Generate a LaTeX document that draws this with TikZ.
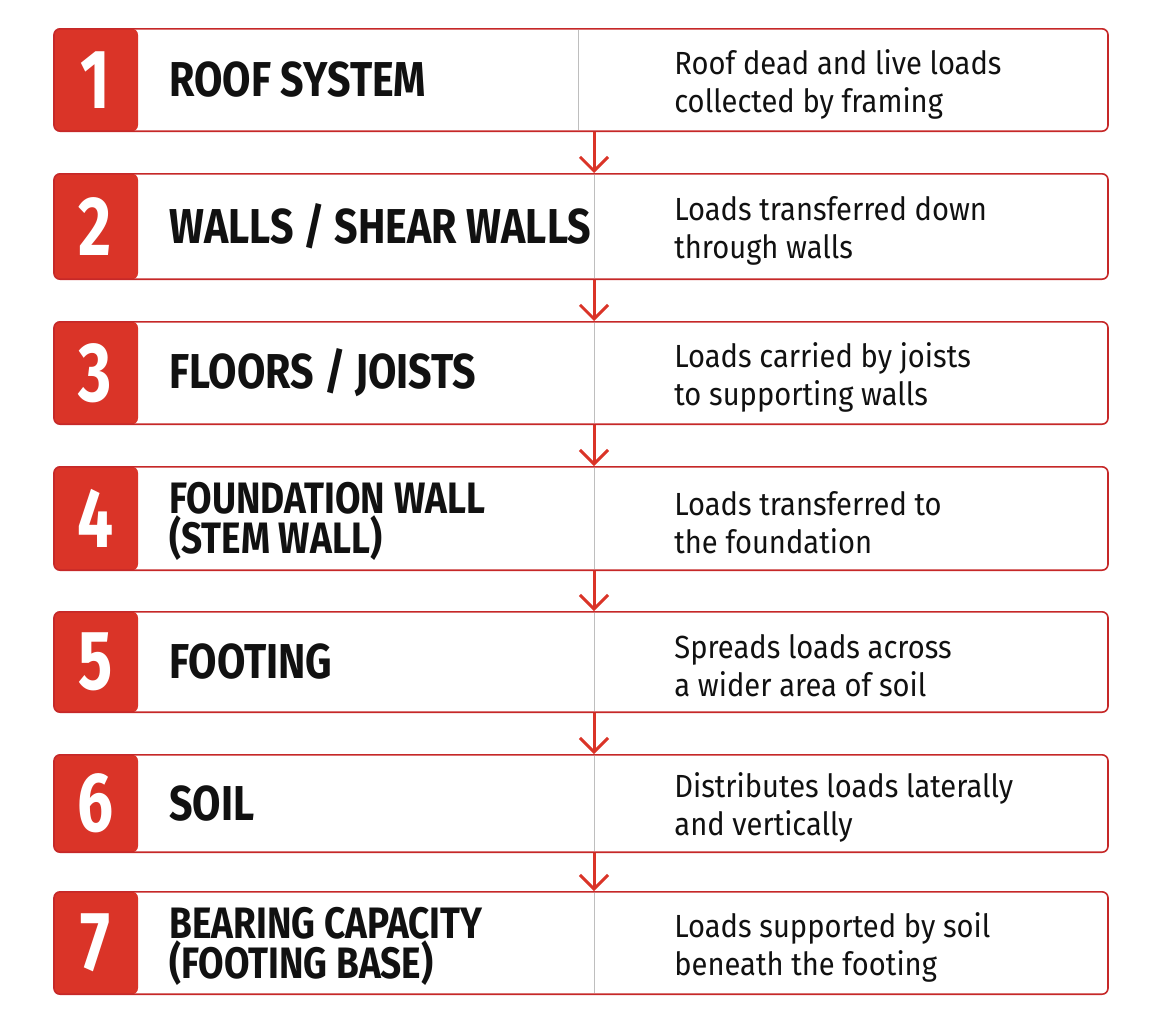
\documentclass[tikz,border=0pt]{standalone}
\usepackage{fontspec}
\setmainfont{Fira Sans}
\newfontfamily\headfont[FakeStretch=0.84]{Fira Sans}
\newfontfamily\notefont[FakeStretch=0.91]{Fira Sans}
\newfontfamily\numfont[FakeStretch=0.76]{Fira Sans}
\usepackage{xcolor}
\usepackage{tikz}
\usetikzlibrary{arrows.meta, positioning}
\definecolor{boxred}{RGB}{218,52,40}
\definecolor{edgered}{RGB}{198,40,40}
\definecolor{divgray}{RGB}{190,190,190}
\definecolor{inkblack}{RGB}{17,17,17}

\begin{document}
\begin{tikzpicture}[x=1pt, y=-1pt, node distance=41pt, >={Straight Barb[length=14pt, width=28pt]}]
    \tikzstyle{stagebox} = [rectangle, draw=edgered, line width=1.6pt, rounded corners=6pt, fill=white, minimum width=1054pt, inner sep=0pt, path picture={\fill[boxred] (path picture bounding box.north west) rectangle ([xshift=84pt]path picture bounding box.south west);}]
    \tikzstyle{numtag} = [text=white, inner sep=0pt, font=\numfont\bfseries\fontsize{84}{84}\selectfont]
    \tikzstyle{headtxt} = [anchor=west, align=left, text=inkblack, inner sep=0pt, font=\headfont\bfseries\fontsize{49}{52}\selectfont]
    \tikzstyle{headtwo} = [headtxt, yshift=-3pt, font=\headfont\bfseries\fontsize{44}{40}\selectfont]
    \tikzstyle{notetxt} = [anchor=west, align=left, text=inkblack, inner sep=0pt, yshift=-4pt, font=\notefont\fontsize{32}{38}\selectfont]
    \tikzstyle{divline} = [draw=divgray, line width=1pt, shorten <=1.6pt, shorten >=1.6pt]
    \tikzstyle{flow} = [draw=boxred, line width=3pt]

    \useasboundingbox (0,0) rectangle (1161,1023);

    \node [stagebox, minimum height=102.4pt] (row1) at (581,80) {};
    \node [stagebox, minimum height=105.4pt, below=of row1] (row2) {};
    \node [stagebox, minimum height=102.4pt, below=of row2] (row3) {};
    \node [stagebox, minimum height=103.4pt, below=of row3] (row4) {};
    \node [stagebox, minimum height=100.4pt, below=40pt of row4] (row5) {};
    \node [stagebox, minimum height=97.4pt, below=of row5] (row6) {};
    \node [stagebox, minimum height=102.4pt, below=38pt of row6] (row7) {};

    \node [numtag] (num1) at ([xshift=42pt]row1.west) {1};
    \node [headtxt] (head1) at ([xshift=116pt]row1.west) {ROOF SYSTEM};
    \node [notetxt] (note1) at ([xshift=621pt]row1.west) {Roof dead and live loads\\collected by framing};

    \node [numtag] (num2) at ([xshift=42pt]row2.west) {2};
    \node [headtxt] (head2) at ([xshift=116pt]row2.west) {WALLS / SHEAR WALLS};
    \node [notetxt] (note2) at ([xshift=621pt]row2.west) {Loads transferred down\\through walls};

    \node [numtag] (num3) at ([xshift=42pt]row3.west) {3};
    \node [headtxt] (head3) at ([xshift=116pt]row3.west) {FLOORS / JOISTS};
    \node [notetxt] (note3) at ([xshift=621pt]row3.west) {Loads carried by joists\\to supporting walls};

    \node [numtag] (num4) at ([xshift=42pt]row4.west) {4};
    \node [headtwo] (head4) at ([xshift=116pt]row4.west) {FOUNDATION WALL\\(STEM WALL)};
    \node [notetxt] (note4) at ([xshift=621pt]row4.west) {Loads transferred to\\the foundation};

    \node [numtag] (num5) at ([xshift=42pt]row5.west) {5};
    \node [headtxt] (head5) at ([xshift=116pt]row5.west) {FOOTING};
    \node [notetxt] (note5) at ([xshift=621pt]row5.west) {Spreads loads across\\a wider area of soil};

    \node [numtag] (num6) at ([xshift=42pt]row6.west) {6};
    \node [headtxt] (head6) at ([xshift=116pt]row6.west) {SOIL};
    \node [notetxt] (note6) at ([xshift=621pt]row6.west) {Distributes loads laterally\\and vertically};

    \node [numtag] (num7) at ([xshift=42pt]row7.west) {7};
    \node [headtwo] (head7) at ([xshift=116pt]row7.west) {BEARING CAPACITY\\(FOOTING BASE)};
    \node [notetxt] (note7) at ([xshift=621pt]row7.west) {Loads supported by soil\\beneath the footing};

    % Dividers
    \foreach \i/\dx in {1/-3, 2/13, 3/13, 4/13, 5/13, 6/13, 7/13}
        \draw [divline] ([xshift=\dx pt]row\i.north) -- ([xshift=\dx pt]row\i.south);

    % Connections
    \foreach \i/\j in {1/2, 2/3, 3/4, 4/5, 5/6, 6/7}
        \draw [->, flow] ([xshift=13pt]row\i.south) -- ([xshift=13pt]row\j.north);
\end{tikzpicture}
\end{document}
